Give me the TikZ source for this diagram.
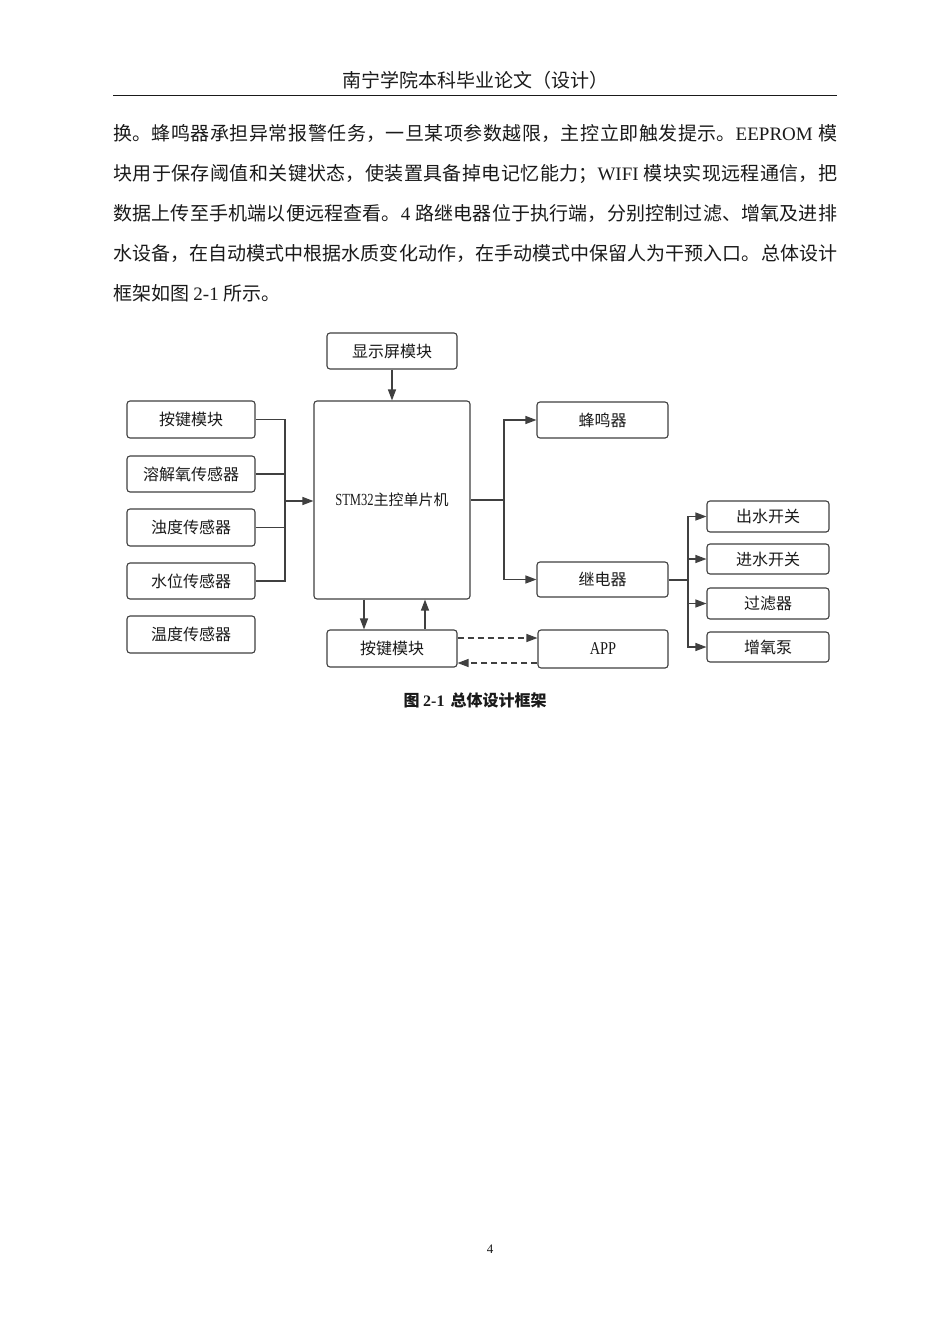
\documentclass[tikz,border=0pt]{standalone}
\usepackage{fontspec}
\usepackage{graphicx}
\setmainfont{Noto Sans CJK SC}
\newfontfamily\lat{Liberation Serif}
\usetikzlibrary{arrows.meta}
\XeTeXlinebreaklocale "zh"
\XeTeXlinebreakskip=0pt plus 1pt
\definecolor{ln}{HTML}{404040}
\definecolor{txt}{HTML}{1A1A1A}
\newcommand{\narrowlat}[2]{\scalebox{#1}[1]{\lat #2}}
\tikzset{
 box/.style={draw=ln, line width=1.1pt, rounded corners=3pt, inner sep=0pt, font=\fontsize{16pt}{18pt}\selectfont, text=txt},
 conn/.style={draw=ln, line width=1.2pt},
 arr/.style={conn, -{Triangle[length=11pt,width=8pt]}},
 darr/.style={arr, dashed, dash pattern=on 6pt off 4pt},
}
\begin{document}
\begin{tikzpicture}[x=1pt,y=-1pt]
\useasboundingbox[fill=white] (0,0) rectangle (950,1344);
% header
\node[anchor=base, inner sep=0pt, text=txt, font=\fontsize{19pt}{19pt}\selectfont] (hdr) at (475,87) {南宁学院本科毕业论文（设计）};
\coordinate (rl) at (113,95);
\coordinate (rr) at (837,95);
\draw[line width=0.9pt, txt] (rl) -- (rr);
% paragraph
\node[anchor=base west, text width=724pt, inner sep=0pt, align=justify, text=txt, font=\fontsize{19pt}{40pt}\selectfont] (para) at (113,140) {换。蜂鸣器承担异常报警任务，一旦某项参数越限，主控立即触发提示。{\lat EEPROM} 模\linebreak 块用于保存阈值和关键状态，使装置具备掉电记忆能力；{\lat WIFI} 模块实现远程通信，把\linebreak 数据上传至手机端以便远程查看。{\lat 4} 路继电器位于执行端，分别控制过滤、增氧及进排\linebreak 水设备，在自动模式中根据水质变化动作，在手动模式中保留人为干预入口。总体设计\linebreak 框架如图 {\lat 2-1} 所示。};
% boxes
\node[box, minimum width=130pt, minimum height=36pt] (disp) at (392,351) {显示屏模块};
\node[box, minimum width=128pt, minimum height=37pt] (key1) at (191,419.5) {按键模块};
\node[box, minimum width=128pt, minimum height=36pt] (do) at (191,474) {溶解氧传感器};
\node[box, minimum width=128pt, minimum height=37pt] (turb) at (191,527.5) {浊度传感器};
\node[box, minimum width=128pt, minimum height=36pt] (lvl) at (191,581) {水位传感器};
\node[box, minimum width=128pt, minimum height=37pt] (temp) at (191,634.5) {温度传感器};
\node[box, minimum width=156pt, minimum height=198pt, font=\fontsize{15pt}{17pt}\selectfont] (mcu) at (392,500) {{\fontsize{17pt}{17pt}\selectfont\narrowlat{0.74}{STM32}}主控单片机};
\node[box, minimum width=130pt, minimum height=37pt] (key2) at (392,648.5) {按键模块};
\node[box, minimum width=131pt, minimum height=36pt] (buzz) at (602.5,420) {蜂鸣器};
\node[box, minimum width=131pt, minimum height=35pt] (relay) at (602.5,579.5) {继电器};
\node[box, minimum width=130pt, minimum height=38pt, font=\fontsize{18pt}{18pt}\selectfont] (app) at (603,649) {\narrowlat{0.8}{APP}};
\node[box, minimum width=122pt, minimum height=31pt] (out) at (768,516.5) {出水开关};
\node[box, minimum width=122pt, minimum height=30pt] (in) at (768,559) {进水开关};
\node[box, minimum width=122pt, minimum height=31pt] (filt) at (768,603.5) {过滤器};
\node[box, minimum width=122pt, minimum height=30pt] (pump) at (768,647) {增氧泵};
% junctions
\coordinate (J1) at (285,501);
\coordinate (J2) at (504,500);
\coordinate (J3) at (688,580);
% connectors
\draw[arr] (disp) -- (mcu);
\draw[conn] (key1) -| (J1);
\draw[conn] (lvl) -| (J1);
\draw[conn] (do) -- (do -| J1);
\draw[conn] (turb) -- (turb -| J1);
\draw[arr] (J1) -- (J1 -| mcu.west);
\draw[conn] (mcu.east) -- (J2);
\draw[arr] (J2) |- (buzz);
\draw[arr] (J2) |- (relay);
\draw[conn] (relay.east |- J3) -- (J3);
\draw[arr] (J3) |- (out);
\draw[arr] (J3) |- (in);
\draw[arr] (J3) |- (filt);
\draw[arr] (J3) |- (pump);
\draw[arr] ([xshift=-28pt]mcu.south) -- ([xshift=-28pt]key2.north);
\draw[arr] ([xshift=33pt]key2.north) -- ([xshift=33pt]mcu.south);
\draw[darr] ([yshift=10.5pt]key2.east) -- ([yshift=10.5pt]key2.east -| app.west);
\draw[darr] ([yshift=-14.5pt]key2.east -| app.west) -- ([yshift=-14.5pt]key2.east);
% caption
\node[anchor=base, inner sep=0pt, text=txt, font=\fontsize{16pt}{16pt}\selectfont\bfseries] (cap) at (475,706) {图 {\lat\bfseries 2-1}\hspace{6pt}总体设计框架};
% page number
\node[anchor=base, inner sep=0pt, text=txt, font=\lat\fontsize{13pt}{13pt}\selectfont] (pg) at (490,1253) {4};
\end{tikzpicture}
\end{document}
